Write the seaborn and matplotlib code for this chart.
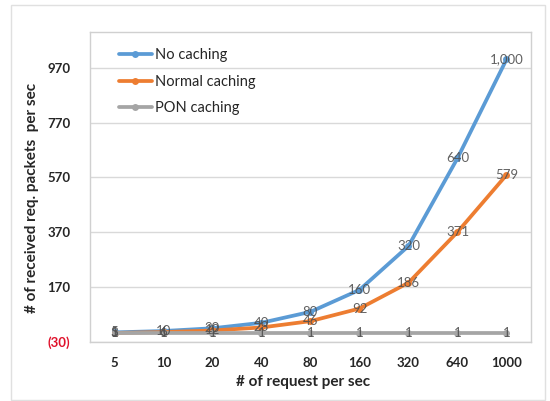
import matplotlib
matplotlib.use("Agg")
import matplotlib.pyplot as plt
import seaborn as sns
import pandas as pd
from matplotlib.patches import Rectangle

categories = ["5", "10", "20", "40", "80", "160", "320", "640", "1000"]
no_caching = [5, 10, 20, 40, 80, 160, 320, 640, 1000]
normal_caching = [3, 6, 12, 23, 46, 92, 186, 371, 579]
pon_caching = [1, 1, 1, 1, 1, 1, 1, 1, 1]
series_names = ["No caching", "Normal caching", "PON caching"]
y_ticks = [-30, 170, 370, 570, 770, 970]
y_tick_labels = ["(30)", "170", "370", "570", "770", "970"]

colors = ["#5B9BD5", "#ED7D31", "#A5A5A5"]

sns.set_theme(style="white")
plt.rcParams["font.family"] = ["Lato", "DejaVu Sans"]

rows = []
for name, vals in zip(series_names, [no_caching, normal_caching, pon_caching]):
    for c, v in zip(categories, vals):
        rows.append({"req": c, "val": v, "series": name})
df = pd.DataFrame(rows)

fig = plt.figure(figsize=(5.5, 4.01), dpi=100)
ax = fig.add_axes([90 / 550, 1 - 342 / 401, 441 / 550, 310 / 401])

sns.lineplot(data=df, x="req", y="val", hue="series", hue_order=series_names,
             palette=colors, marker="o", markersize=5, markeredgewidth=0,
             linewidth=2.7, ax=ax, sort=False)

for name, vals in zip(series_names, [no_caching, normal_caching, pon_caching]):
    for i, v in enumerate(vals):
        ax.text(i, v, f"{v:,}", ha="center", va="center", fontsize=9.5,
                color="#505050", alpha=0.9)

ax.set_xlim(-0.5, len(categories) - 0.5)
ax.set_ylim(-30, 1100)
ax.set_yticks(y_ticks)
ax.set_yticklabels(y_tick_labels)
for lbl in ax.get_yticklabels():
    if lbl.get_text() == "(30)":
        lbl.set_color("#E0112B")
ax.tick_params(axis="y", length=0, labelsize=9.5, pad=14)
ax.tick_params(axis="x", length=0, labelsize=9.5, pad=11)
for lbl in ax.get_xticklabels() + ax.get_yticklabels():
    lbl.set_fontweight("bold")
ax.grid(axis="y", color="#D9D9D9", linewidth=1)
for s in ax.spines.values():
    s.set_color("#D0D0D0")
    s.set_linewidth(1)

ax.set_xlabel("# of request per sec", fontsize=11, fontweight="bold")
ax.set_ylabel("# of received req. packets  per sec", fontsize=11, fontweight="bold")
ax.xaxis.set_label_coords(0.483, -0.105)
ax.yaxis.set_label_coords(-0.115, 0.465)

leg = ax.legend(loc="upper left", bbox_to_anchor=(0.035, 0.99), frameon=False,
                fontsize=10.5, handlelength=2.3, labelspacing=0.85, handletextpad=0.2)

fig.patches.append(Rectangle((11 / 550, 1 - 400 / 401), 534 / 550, 395 / 401,
                             transform=fig.transFigure, fill=False,
                             edgecolor="#E0E0E0", linewidth=1))

fig.savefig("out.png", dpi=100)
